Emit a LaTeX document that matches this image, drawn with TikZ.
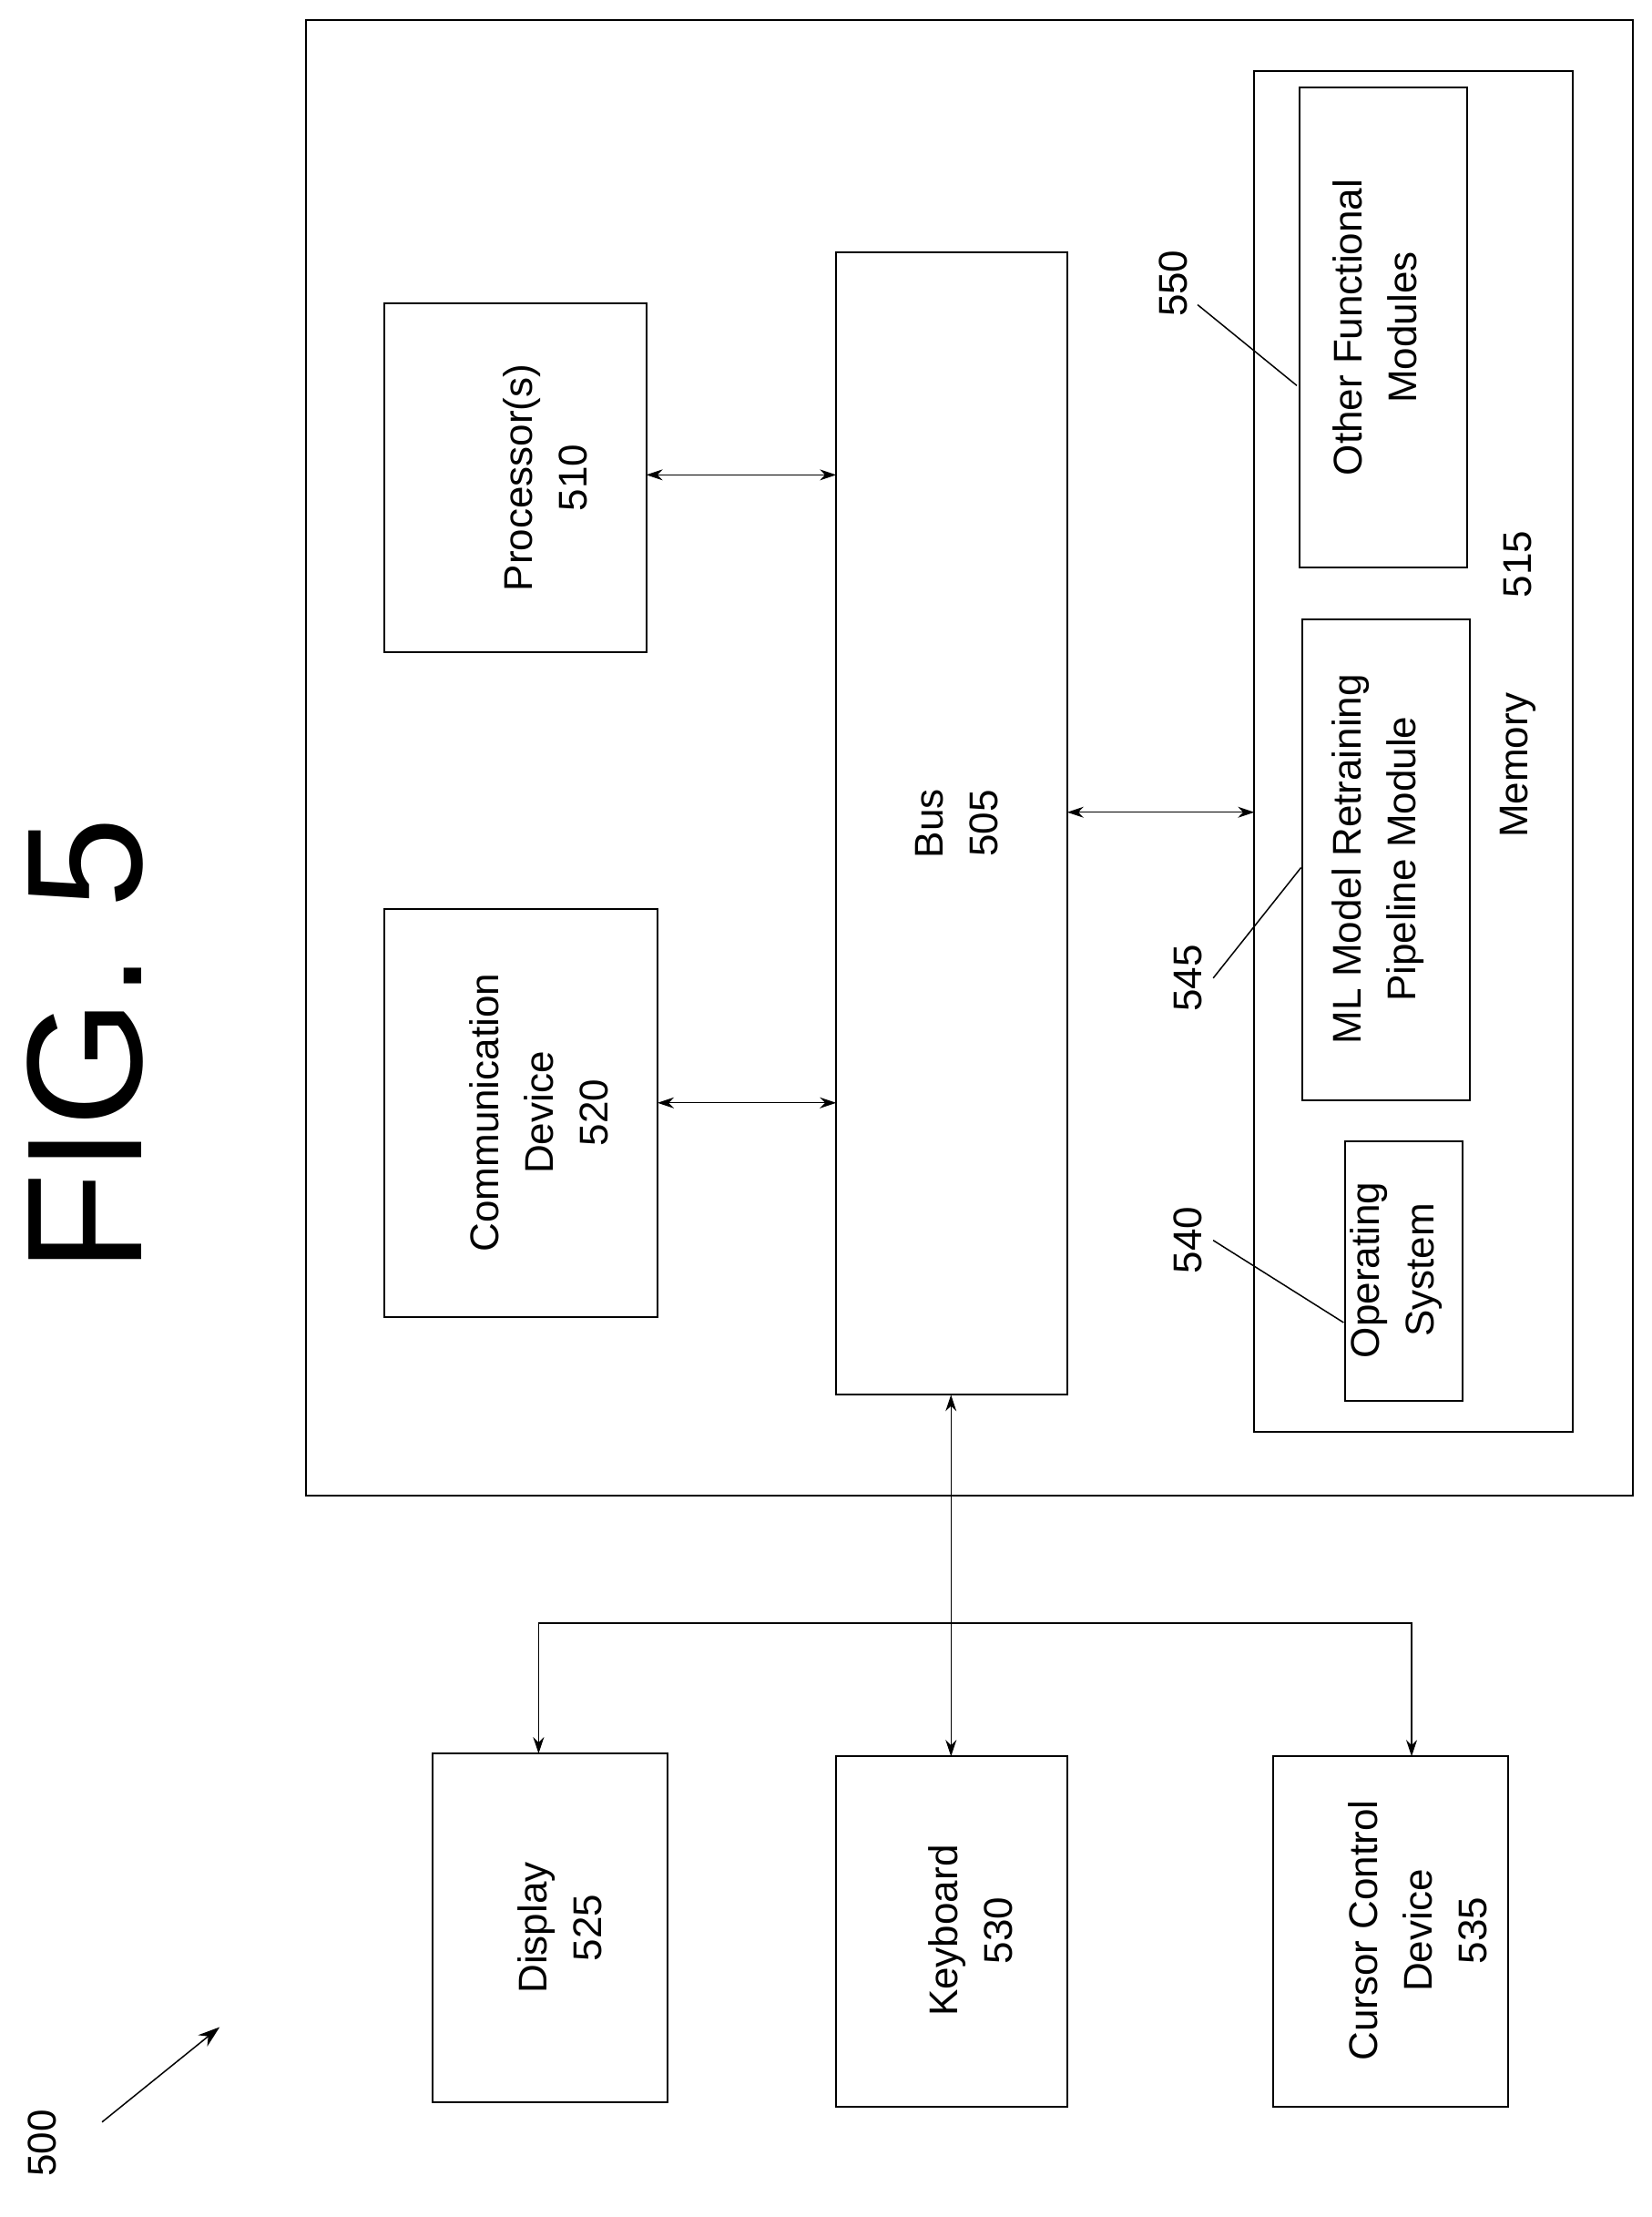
\documentclass[tikz,border=0pt]{standalone}
\usepackage{fontspec}
\setmainfont{Liberation Sans}
\usetikzlibrary{arrows.meta}
\begin{document}
\begin{tikzpicture}[x=1.556pt,y=-1.556pt,
 bx/.style={draw,line width=2pt},
 txt/.style={rotate=90,align=center,font=\fontsize{44}{60}\selectfont},
 ar/.style={line width=1.2pt,{Stealth[length=18pt,width=12pt]}-{Stealth[length=18pt,width=12pt]}},
 ld/.style={line width=1.5pt}]
\useasboundingbox (0,0) rectangle (1165,1564);
\draw[bx] (216,14) rectangle (1152,1055);
\draw[bx] (271,214) rectangle (456,460); \node[txt] (p) at (385,337) {Processor(s)\\510};
\draw[bx] (271,641) rectangle (464,929); \node[txt] (c) at (380,785) {Communication\\Device\\520};
\draw[bx] (590,178) rectangle (753,984); \node[txt] (b) at (675,581) {Bus\\505};
\draw[bx] (885,50) rectangle (1110,1010);
\draw[bx] (917,62) rectangle (1035,400); \node[txt] (o) at (970,231) {Other Functional\\Modules};
\draw[bx] (919,437) rectangle (1037,776); \node[txt] (ml) at (972,606) {ML Model Retraining\\Pipeline Module};
\draw[bx] (949,805) rectangle (1032,988); \node[txt] (os) at (985,896) {Operating\\System};
\node[txt] (m) at (1071,540) {Memory};
\node[txt] (m5) at (1071,398) {515};
\draw[bx] (305,1237) rectangle (471,1483); \node[txt] (d) at (395,1360) {Display\\525};
\draw[bx] (590,1239) rectangle (753,1486); \node[txt] (k) at (685,1362) {Keyboard\\530};
\draw[bx] (898,1239) rectangle (1064,1486); \node[txt] (cu) at (1000,1362) {Cursor Control\\Device\\535};
\draw[ar] (456,335) -- (590,335);
\draw[ar] (464,778) -- (590,778);
\draw[ar] (753,573) -- (885,573);
\draw[ar] (671,984) -- (671,1239);
\draw[line width=1.2pt,-{Stealth[length=18pt,width=12pt]}] (380,1145) -- (380,1237);
\draw[line width=1.2pt,-{Stealth[length=18pt,width=12pt]}] (380,1145) -- (996,1145) -- (996,1239);
\node[txt,font=\fontsize{180}{185}\selectfont] (fig) at (60,737) {FIG. 5};
\node[txt] (l500) at (30,1512) {500};
\draw[line width=1.5pt,-{Stealth[length=24pt,width=16pt]}] (72,1497) -- (155,1430);
\node[txt] (l550) at (828,200) {550};
\node[txt] (l545) at (838,690) {545};
\node[txt] (l540) at (838,875) {540};
\draw[ld] (845,215) -- (915,272);
\draw[ld] (856,690) -- (918,612);
\draw[ld] (856,875) -- (948,933);
\end{tikzpicture}
\end{document}
